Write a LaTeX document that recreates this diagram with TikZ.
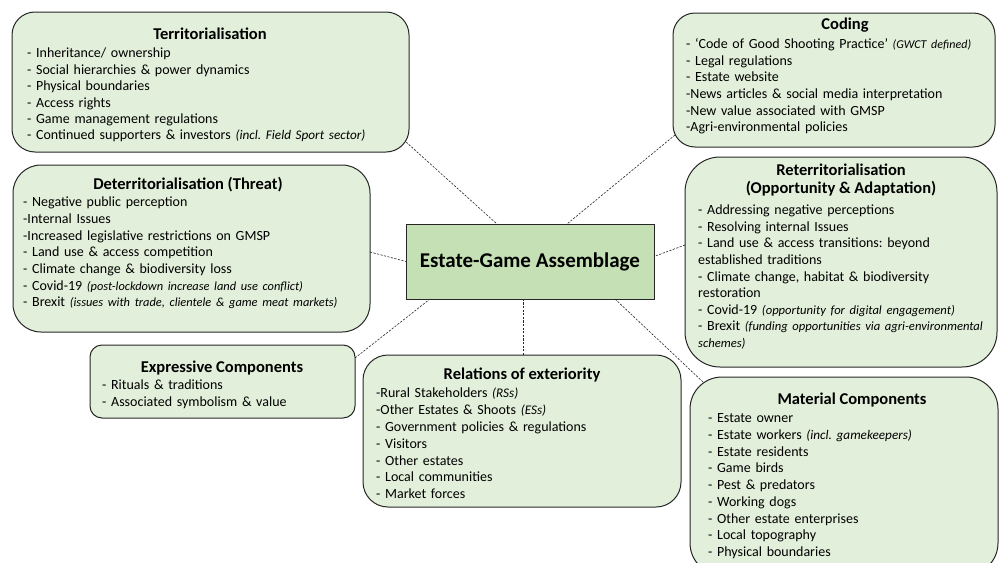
\documentclass[tikz,border=0pt]{standalone}
\usepackage{fontspec}
\setmainfont{Carlito}
\usetikzlibrary{calc}
\definecolor{boxfill}{HTML}{E2EFDA}
\definecolor{corefill}{HTML}{C5E0B4}
\definecolor{edge}{HTML}{262626}
% italic remarks are set a little smaller than the item text
\newcommand{\remark}[2][13.2]{{\fontsize{#1}{16}\selectfont\itshape #2}}
\tikzset{
  box/.style={draw=edge, fill=boxfill, line width=1pt, inner sep=0pt, outer sep=0pt, anchor=north west},
  core/.style={draw=edge, fill=corefill, line width=1pt, inner sep=0pt, outer sep=0pt, anchor=north west,
    font=\fontsize{21}{25}\selectfont\bfseries},
  ttl/.style={anchor=base, inner sep=0pt, font=\fontsize{16.5}{18}\selectfont\bfseries},
  items/.style={anchor=north west, inner sep=0pt, align=left, text width=400pt},
  link/.style={draw=edge, line width=0.6pt, dash pattern=on 2.2pt off 1.4pt},
}
\begin{document}
\frenchspacing
\begin{tikzpicture}[x=1pt, y=-1pt]
\useasboundingbox (0,0) rectangle (1000,562);

% ---- boxes ----
\node[box, minimum width=397, minimum height=140, rounded corners=23] (terr) at (12,12) {};
\node[box, minimum width=322, minimum height=134, rounded corners=22] (cod) at (673,13) {};
\node[box, minimum width=357, minimum height=167, rounded corners=28] (det) at (13,165) {};
\node[box, minimum width=312, minimum height=210, rounded corners=35] (ret) at (685,157) {};
\node[box, minimum width=265, minimum height=73, rounded corners=12] (exp) at (90,345) {};
\node[box, minimum width=318, minimum height=152, rounded corners=25] (rel) at (363,355) {};
\node[box, minimum width=308, minimum height=198, rounded corners=32] (mat) at (690,377) {};
\node[core, minimum width=248, minimum height=75] (ctr) at (406,224) {Estate-Game Assemblage};

% ---- connectors ----
\draw[link] ($(terr.south east)+(-3,-10)$) -- ($(ctr.north west)+(91,0)$);
\draw[link] ($(cod.south west)+(2,-12)$) -- ($(ctr.north east)+(-87,0)$);
\draw[link] ($(det.east)+(0,3.5)$) -- (ctr.west);
\draw[link] ($(ret.west)+(0,-17)$) -- ($(ctr.east)+(0,-5)$);
\draw[link] ($(exp.north east)+(0,13)$) -- ($(ctr.south west)+(24,0)$);
\draw[link] ($(rel.north)+(1,0)$) -- ($(ctr.south)+(-7,0)$);
\draw[link] ($(mat.north west)+(13,5)$) -- ($(ctr.south east)+(-39,0)$);

% ---- Territorialisation ----
\node[ttl] (terr-t) at (210,39.5) {Territorialisation};
\node[items, font=\fontsize{14}{16.4}\selectfont] (terr-i) at (27,46.3) {\strut- Inheritance/ ownership\\
- Social hierarchies \& power dynamics\\
- Physical boundaries\\
- Access rights\\
- Game management regulations\\
- Continued supporters \& investors \remark{(incl. Field Sport sector)}};

% ---- Coding ----
\node[ttl] (cod-t) at (845,29.5) {Coding};
\node[items, font=\fontsize{14}{16.6}\selectfont] (cod-i) at (686,36.9) {\strut- ‘Code of Good Shooting Practice’ \remark[12]{(GWCT defined)}\\
- Legal regulations\\
- Estate website\\
-News articles \& social media interpretation\\
-New value associated with GMSP\\
-Agri-environmental policies};

% ---- Deterritorialisation ----
\node[ttl] (det-t) at (188,189.5) {Deterritorialisation (Threat)};
\node[items, font=\fontsize{14}{16.7}\selectfont] (det-i) at (23,194.8) {\strut- Negative public perception\\
-Internal Issues\\
-Increased legislative restrictions on GMSP\\
- Land use \& access competition\\
- Climate change \& biodiversity loss\\
- Covid-19 \remark[12.4]{(post-lockdown increase land use conflict)}\\
- Brexit \remark[12.4]{(issues with trade, clientele \& game meat markets)}};

% ---- Reterritorialisation ----
\node[ttl] (ret-t1) at (841,175.5) {Reterritorialisation};
\node[ttl] (ret-t2) at (841,193.5) {(Opportunity \& Adaptation)};
\node[items, font=\fontsize{14}{16.6}\selectfont] (ret-i) at (698,202.9) {\strut- Addressing negative perceptions\\
- Resolving internal Issues\\
- Land use \& access transitions: beyond\\
established traditions\\
- Climate change, habitat \& biodiversity\\
restoration\\
- Covid-19 \remark[12.6]{(opportunity for digital engagement)}\\
- Brexit \remark[12.6]{(funding opportunities via agri-environmental}\\
\remark[12.6]{schemes)}};

% ---- Expressive Components ----
\node[ttl] (exp-t) at (222,372.3) {Expressive Components};
\node[items, font=\fontsize{14}{17}\selectfont] (exp-i) at (102,377.6) {\strut- Rituals \& traditions\\
- Associated symbolism \& value};

% ---- Relations of exteriority ----
\node[ttl] (rel-t) at (522,379.3) {Relations of exteriority};
\node[items, font=\fontsize{14}{16.85}\selectfont] (rel-i) at (376,385.7) {\strut-Rural Stakeholders \remark{(RSs)}\\
-Other Estates \& Shoots \remark{(ESs)}\\
- Government policies \& regulations\\
- Visitors\\
- Other estates\\
- Local communities\\
- Market forces};

% ---- Material Components ----
\node[ttl] (mat-t) at (852,404.3) {Material Components};
\node[items, font=\fontsize{14}{16.75}\selectfont] (mat-i) at (708,410.8) {\strut- Estate owner\\
- Estate workers \remark{(incl. gamekeepers)}\\
- Estate residents\\
- Game birds\\
- Pest \& predators\\
- Working dogs\\
- Other estate enterprises\\
- Local topography\\
- Physical boundaries};
\end{tikzpicture}
\end{document}
